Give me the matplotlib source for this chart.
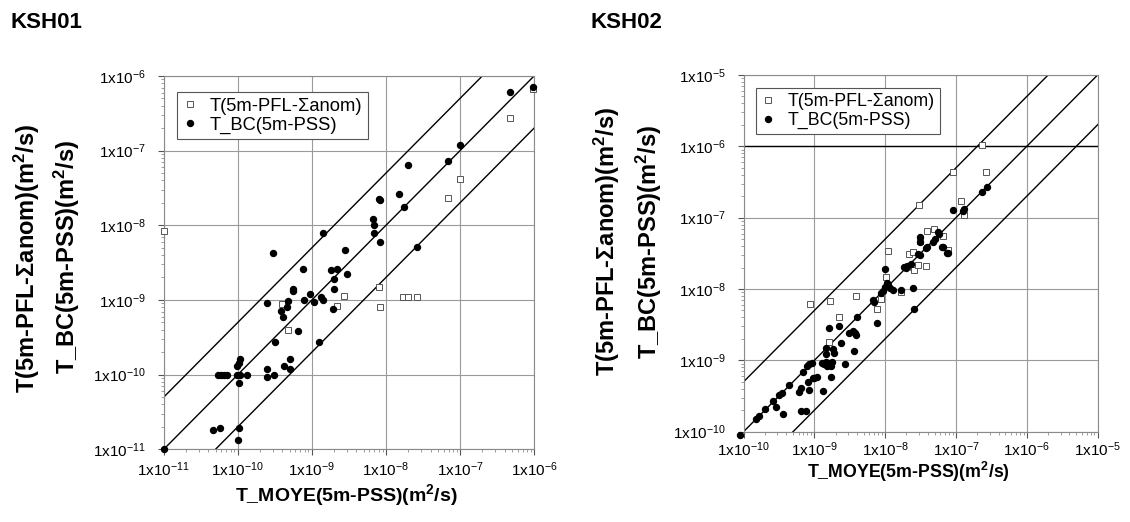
import numpy as np
import matplotlib
matplotlib.use("Agg")
import matplotlib.pyplot as plt
from matplotlib.ticker import LogLocator, NullFormatter, FixedLocator

plt.rcParams['font.family'] = ['Liberation Sans', 'DejaVu Sans']
plt.rcParams['mathtext.default'] = 'regular'

# KSH01 -- PFL anomalies (open squares) and PSS Boundary Condition (filled)
ksh01_pfl_x = [1e-11, 3.9e-10, 2.75e-9, 2.2e-9, 4.7e-10, 9.6e-7, 4.8e-7, 9.9e-8, 6.9e-8,
               8.0e-9, 1.7e-8, 2.0e-8, 2.64e-8, 8.4e-9]
ksh01_pfl_y = [8.5e-9, 8.7e-10, 1.12e-9, 8.4e-10, 4.0e-10, 6.7e-7, 2.7e-7, 4.2e-8, 2.3e-8,
               1.5e-9, 1.1e-9, 1.1e-9, 1.1e-9, 8.0e-10]
ksh01_bc_x = [1.4e-9, 3.0e-10, 2.8e-9, 7.6e-10, 1.8e-9, 2.2e-9, 3.0e-9, 2.0e-9, 5.5e-10,
              5.6e-10, 2.0e-9, 9.3e-10, 7.9e-10, 1.07e-9, 1.34e-9, 1.42e-9, 2.5e-10, 4.7e-10,
              4.6e-10, 3.8e-10, 4.1e-10, 1.9e-9, 6.5e-10, 3.2e-10, 1.24e-9,
              1.07e-10, 1.05e-10, 9.9e-11, 5.4e-11, 5.9e-11, 6.6e-11, 7.2e-11, 9.9e-11, 1.07e-10,
              1.32e-10, 1.05e-10, 2.5e-10, 2.5e-10, 3.1e-10, 4.2e-10, 5.1e-10, 5.1e-10,
              4.6e-11, 5.8e-11, 1.04e-10, 1.02e-10, 1e-11,
              9.6e-7, 4.8e-7, 9.9e-8, 6.9e-8, 2.0e-8, 1.5e-8, 1.73e-8, 8.1e-9, 8.4e-9,
              6.7e-9, 6.8e-9, 7.0e-9, 8.2e-9, 2.6e-8]
ksh01_bc_y = [8.0e-9, 4.2e-9, 4.6e-9, 2.6e-9, 2.5e-9, 2.6e-9, 2.2e-9, 1.9e-9, 1.4e-9,
              1.3e-9, 1.4e-9, 1.2e-9, 1.0e-9, 9.5e-10, 1.09e-9, 1.0e-9, 9.2e-10, 9.7e-10,
              8.0e-10, 7.2e-10, 5.9e-10, 7.6e-10, 3.8e-10, 2.7e-10, 2.7e-10,
              1.6e-10, 1.44e-10, 1.3e-10, 1e-10, 1e-10, 1e-10, 1e-10, 1e-10, 1e-10,
              1e-10, 7.7e-11, 1.19e-10, 9.4e-11, 1.0e-10, 1.3e-10, 1.6e-10, 1.19e-10,
              1.8e-11, 1.9e-11, 1.9e-11, 1.33e-11, 1e-11,
              7.1e-7, 6.1e-7, 1.19e-7, 7.3e-8, 6.4e-8, 2.6e-8, 1.74e-8, 2.25e-8, 2.16e-8,
              1.2e-8, 1.0e-8, 7.9e-9, 6.0e-9, 5.2e-9]

# KSH02
ksh02_pfl_x = [8.7e-10, 1.67e-9, 3.9e-9, 2.2e-9, 1.6e-9, 7.6e-9, 8.7e-9, 1.02e-8, 1.09e-8,
               1.7e-8, 2.15e-8, 2.45e-8, 2.5e-8, 2.56e-8, 2.9e-8, 3.8e-8, 3.1e-8, 7.7e-8,
               2.3e-7, 9.0e-8, 2.66e-7, 3.04e-8, 1.18e-7, 1.3e-7, 3.87e-8, 4.95e-8, 6.5e-8]
ksh02_pfl_y = [6.1e-9, 6.8e-9, 8.1e-9, 4.1e-9, 1.8e-9, 5.2e-9, 7.2e-9, 1.46e-8, 3.4e-8,
               9.2e-9, 3.1e-8, 3.3e-8, 2.06e-8, 1.85e-8, 2.2e-8, 2.1e-8, 4.7e-8, 3.5e-8,
               1.04e-6, 4.3e-7, 4.3e-7, 1.5e-7, 1.73e-7, 1.09e-7, 6.5e-8, 6.9e-8, 5.5e-8]
ksh02_bc_x = [9e-11, 1.5e-10, 1.67e-10, 2.0e-10, 2.6e-10, 2.9e-10, 3.2e-10, 3.5e-10, 3.6e-10,
              4.4e-10, 6.1e-10, 6.5e-10, 6.5e-10, 7.6e-10, 6.9e-10, 8e-10, 8.5e-10, 9.2e-10,
              8.5e-10, 8.2e-10, 1.0e-9, 1.1e-9, 9.5e-10, 1.34e-9, 1.27e-9, 1.37e-9, 1.46e-9,
              1.53e-9, 1.63e-9, 1.7e-9, 1.76e-9, 1.46e-9, 1.46e-9, 1.9e-9, 1.85e-9, 1.72e-9,
              2.7e-9, 2.4e-9, 3.1e-9, 1.63e-9, 2.2e-9, 3.5e-9, 3.76e-9, 3.9e-9, 3.6e-9,
              4.0e-9, 7.0e-9, 6.8e-9, 7.6e-9, 8.7e-9, 9.4e-9, 1.0e-8, 1.0e-8, 1.05e-8,
              1.1e-8, 1.17e-8, 1.3e-8, 1.68e-8, 1.87e-8, 2.06e-8, 2.3e-8, 2.5e-8, 2.56e-8,
              2.9e-8, 3.1e-8, 3.9e-8, 6.5e-8, 7.7e-8, 4.8e-8,
              2.7e-7, 2.36e-7, 9.0e-8, 1.25e-7, 1.3e-7, 5.5e-8, 5.8e-8, 5.1e-8, 3.1e-8,
              3.1e-8, 3.8e-8, 6.4e-8, 7.5e-8, 1.97e-8]
ksh02_bc_y = [9e-11, 1.5e-10, 1.67e-10, 2.06e-10, 2.7e-10, 2.24e-10, 3.3e-10, 3.5e-10, 1.77e-10,
              4.5e-10, 3.6e-10, 4.06e-10, 1.95e-10, 1.95e-10, 6.9e-10, 8.3e-10, 8.9e-10, 9.3e-10,
              3.8e-10, 5.0e-10, 5.6e-10, 5.8e-10, 5.6e-10, 3.76e-10, 9.1e-10, 8.9e-10, 9.6e-10,
              8.3e-10, 9.3e-10, 8.3e-10, 9.6e-10, 1.23e-9, 1.47e-9, 1.25e-9, 1.43e-9, 5.9e-10,
              8.9e-10, 1.73e-9, 2.4e-9, 2.8e-9, 3.0e-9, 2.6e-9, 2.4e-9, 2.27e-9, 1.37e-9,
              4.0e-9, 6.6e-9, 7.0e-9, 3.3e-9, 8.7e-9, 9.5e-9, 1.9e-8, 1.08e-8, 1.22e-8,
              1.14e-8, 1.02e-8, 9.7e-9, 9.7e-9, 2.06e-8, 2.1e-8, 2.24e-8, 1.02e-8, 5.25e-9,
              3.1e-8, 3.0e-8, 3.85e-8, 3.85e-8, 3.2e-8, 4.6e-8,
              2.67e-7, 2.3e-7, 1.28e-7, 1.25e-7, 1.33e-7, 6.4e-8, 6.0e-8, 5.0e-8, 5.3e-8,
              4.6e-8, 3.8e-8, 3.85e-8, 3.2e-8, 2.0e-8]

ylab1 = 'T(5m-PFL-\u03a3anom)(m$^2$/s)'
ylab2 = 'T_BC(5m-PSS)(m$^2$/s)'
xlab = 'T_MOYE(5m-PSS)(m$^2$/s)'


def exp_label(v):
    return '1x10$^{%d}$' % int(round(np.log10(v)))


def panel(ax, lo, hi, pfl_x, pfl_y, bc_x, bc_y, xpad=4):
    ax.set_xscale('log')
    ax.set_yscale('log')
    ax.set_xlim(lo, hi)
    ax.set_ylim(lo, hi)
    decades = [10.0 ** e for e in range(int(np.log10(lo)), int(np.log10(hi)) + 1)]
    ax.xaxis.set_major_locator(FixedLocator(decades))
    ax.yaxis.set_major_locator(FixedLocator(decades))
    ax.set_xticklabels([exp_label(d) for d in decades])
    ax.set_yticklabels([exp_label(d) for d in decades])
    ax.xaxis.set_minor_locator(LogLocator(base=10, subs=np.arange(2, 10)))
    ax.yaxis.set_minor_locator(LogLocator(base=10, subs=np.arange(2, 10)))
    ax.xaxis.set_minor_formatter(NullFormatter())
    ax.yaxis.set_minor_formatter(NullFormatter())
    ax.tick_params(which='major', direction='out', length=4, width=0.8,
                   labelsize=11, color='#555555')
    ax.tick_params(axis='y', which='major', pad=9)
    ax.tick_params(axis='x', which='major', pad=xpad)
    ax.tick_params(which='minor', direction='out', length=2, width=0.5, color='#777777')
    ax.grid(True, which='major', color='#9a9a9a', linewidth=0.8)
    for s in ax.spines.values():
        s.set_color('#8a8a8a')
        s.set_linewidth(0.8)

    # 1:1 line with factor-5 band
    xx = np.array([lo / 10, hi * 10])
    for f in (5.0, 1.0, 0.2):
        ax.plot(xx, xx * f, color='black', linewidth=1.0, zorder=2)

    ax.plot(pfl_x, pfl_y, linestyle='none', marker='s', markersize=4.2,
            markerfacecolor='white', markeredgecolor='#555555', markeredgewidth=0.7,
            label='T(5m-PFL-\u03a3anom)', zorder=3, clip_on=False)
    ax.plot(bc_x, bc_y, linestyle='none', marker='o', markersize=4.3,
            color='black', label='T_BC(5m-PSS)', zorder=4, clip_on=False)


fig = plt.figure(figsize=(11.3, 5.22), dpi=100)

ax1 = fig.add_axes([0.1449, 0.1393, 0.3277, 0.7151])
panel(ax1, 1e-11, 1e-6, ksh01_pfl_x, ksh01_pfl_y, ksh01_bc_x, ksh01_bc_y)
leg1 = ax1.legend(loc='upper left', bbox_to_anchor=(0.036, 0.957), borderaxespad=0,
                  fontsize=13.2, frameon=True, fancybox=False, handlelength=0.8,
                  handletextpad=0.7, borderpad=0.3, labelspacing=0.1)

ax2 = fig.add_axes([0.658, 0.173, 0.3133, 0.6833])
panel(ax2, 1e-10, 1e-5, ksh02_pfl_x, ksh02_pfl_y, ksh02_bc_x, ksh02_bc_y, xpad=2)
ax2.axhline(1e-6, color='black', linewidth=1.0, zorder=2)
leg2 = ax2.legend(loc='upper left', bbox_to_anchor=(0.035, 0.964), borderaxespad=0,
                  fontsize=12.8, frameon=True, fancybox=False, handlelength=0.8,
                  handletextpad=0.7, borderpad=0.3, labelspacing=0.1)

for leg in (leg1, leg2):
    fr = leg.get_frame()
    fr.set_edgecolor('#555555')
    fr.set_linewidth(0.8)
    fr.set_alpha(1)

# panel titles and axis labels
fig.text(10 / 1130, 1 - 22 / 522, 'KSH01', fontsize=16, fontweight='bold', va='center')
fig.text(590 / 1130, 1 - 22 / 522, 'KSH02', fontsize=16, fontweight='bold', va='center')

fig.text(27 / 1130, 1 - 258 / 522, ylab1, rotation=90, fontsize=17, fontweight='bold',
         ha='center', va='center')
fig.text(67 / 1130, 1 - 257 / 522, ylab2, rotation=90, fontsize=17, fontweight='bold',
         ha='center', va='center')
fig.text(607 / 1130, 1 - 241 / 522, ylab1, rotation=90, fontsize=17, fontweight='bold',
         ha='center', va='center')
fig.text(649 / 1130, 1 - 242 / 522, ylab2, rotation=90, fontsize=17, fontweight='bold',
         ha='center', va='center')

fig.text(346 / 1130, 1 - 495 / 522, xlab, fontsize=14, fontweight='bold',
         ha='center', va='center')
fig.text(908 / 1130, 1 - 472 / 522, xlab, fontsize=12.8, fontweight='bold',
         ha='center', va='center')

fig.savefig('out.png', dpi=100)
